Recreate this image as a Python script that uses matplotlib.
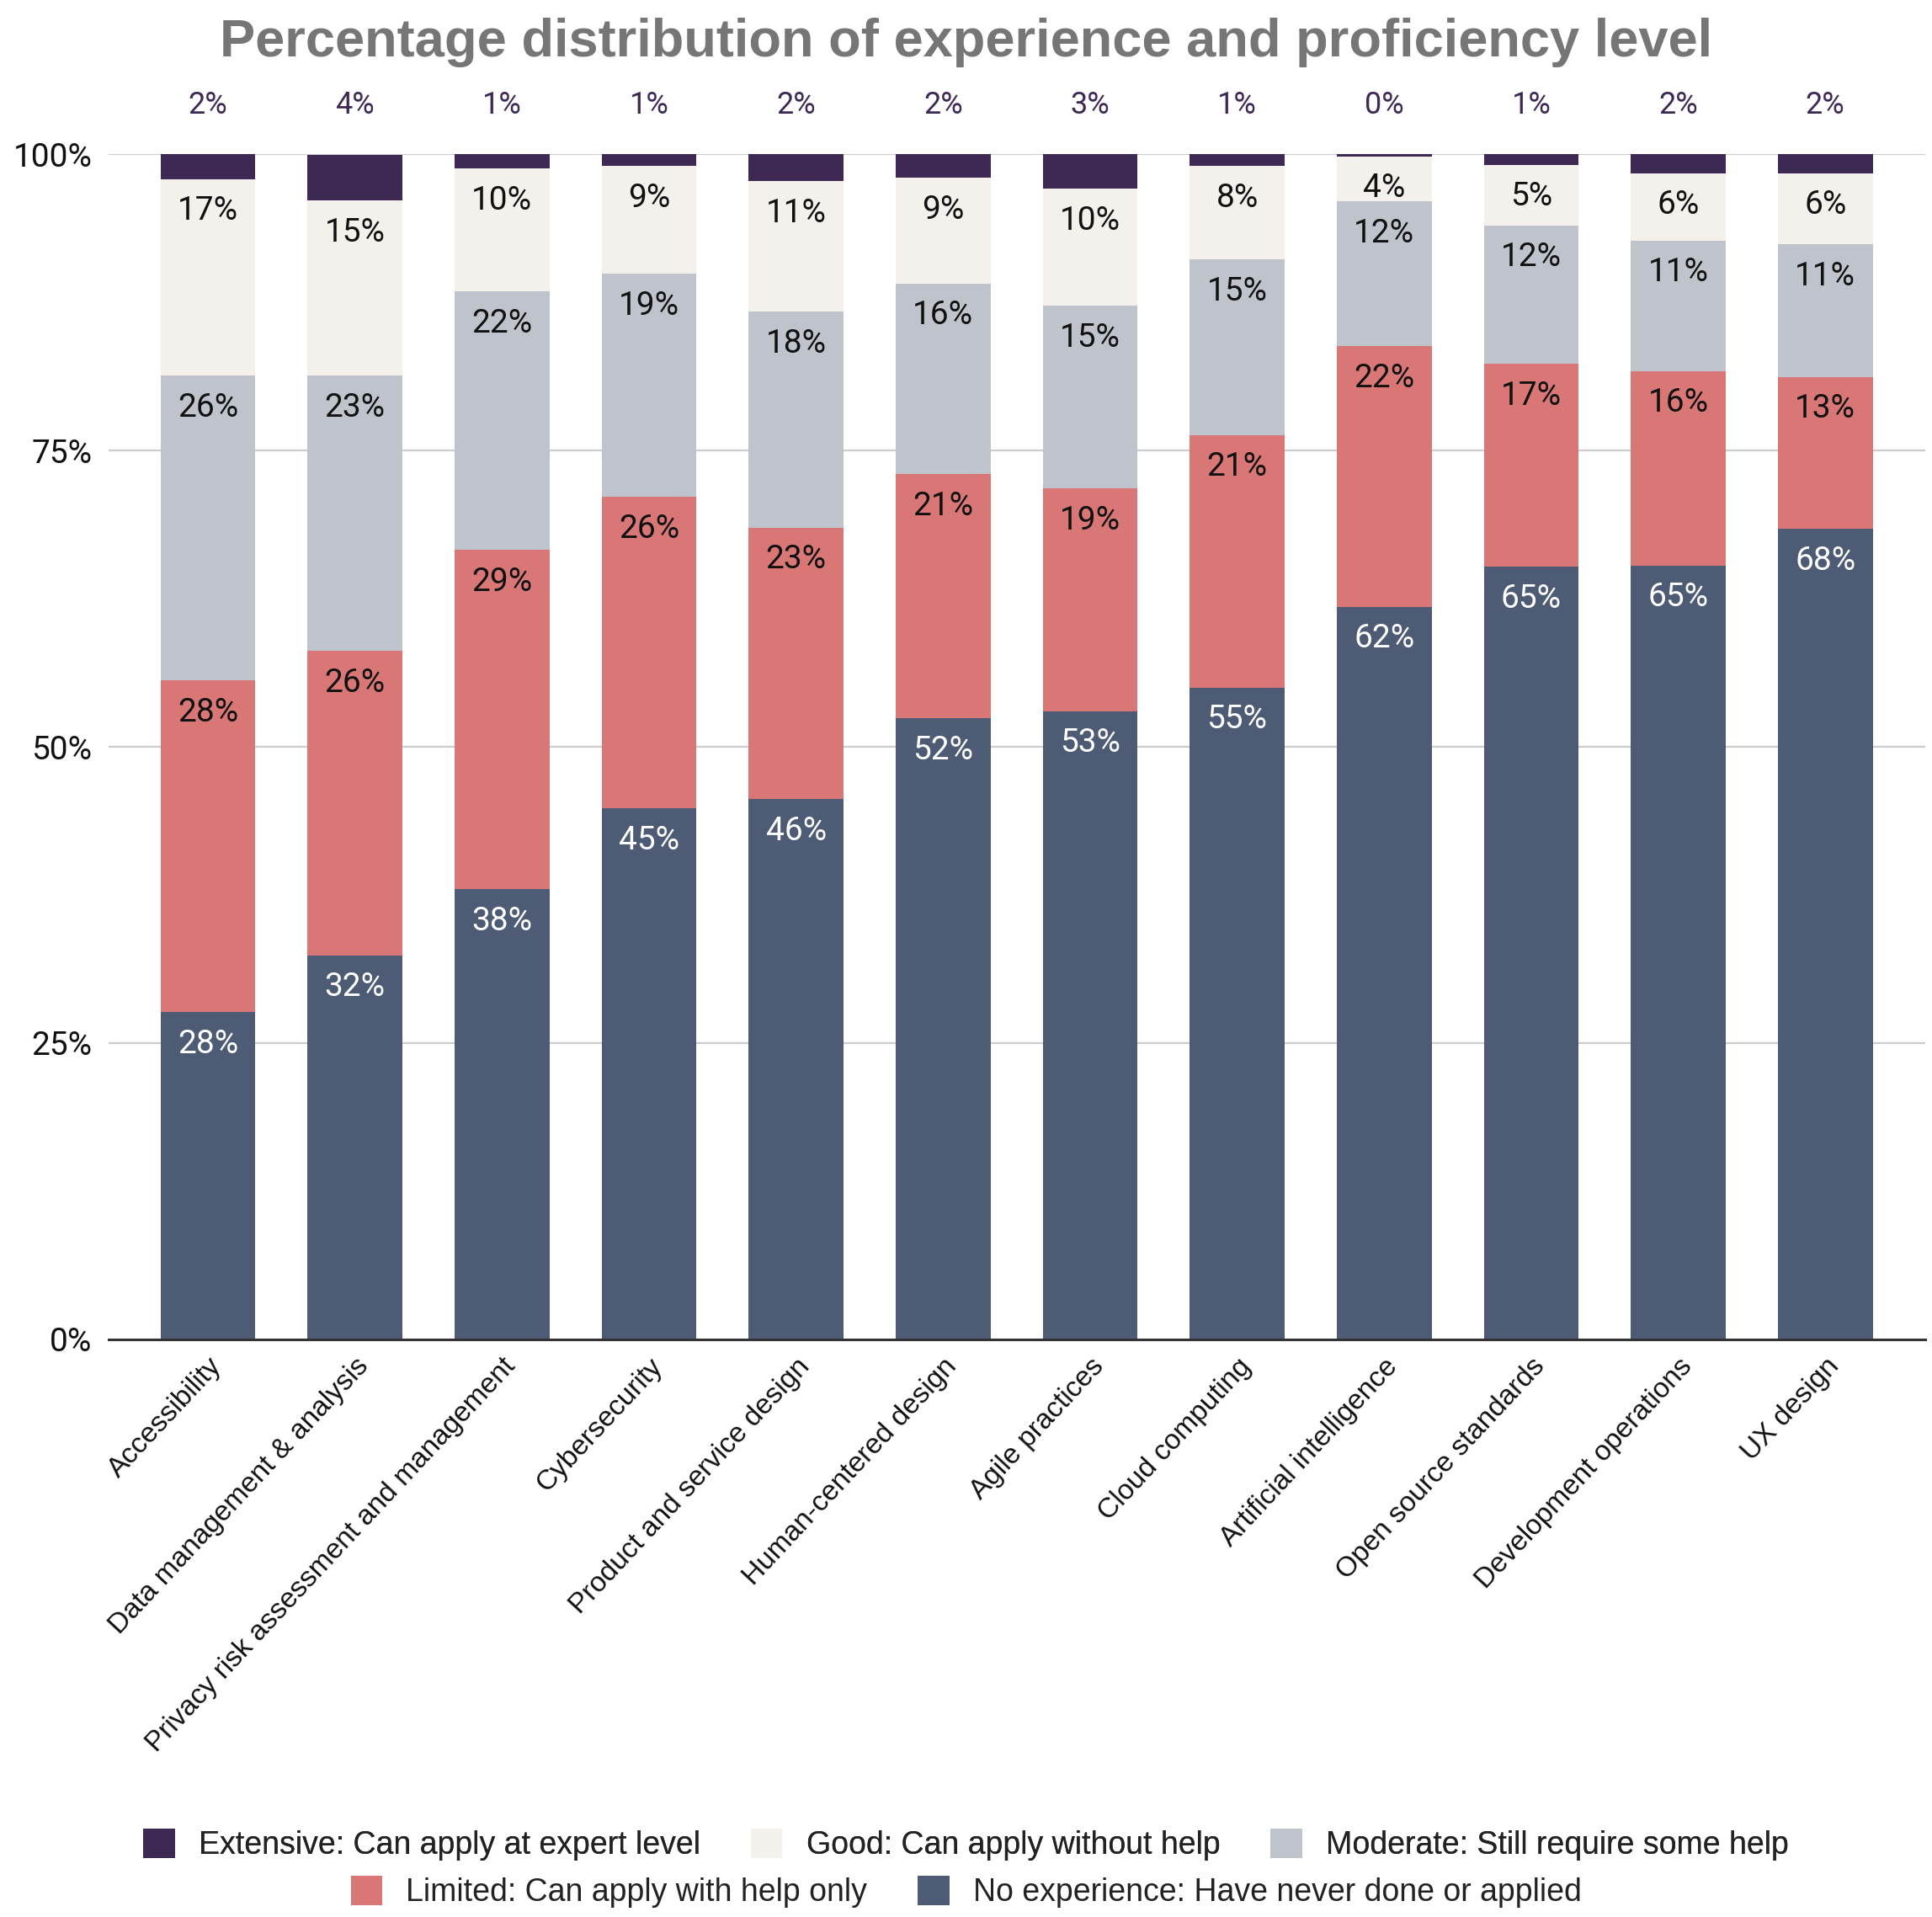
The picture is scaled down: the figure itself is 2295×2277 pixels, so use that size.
import numpy as np
import matplotlib
matplotlib.use("Agg")
import matplotlib.pyplot as plt

plt.rcParams['font.family'] = ['Liberation Sans', 'DejaVu Sans']

# Данные (значения в процентах)
categories = ["Accessibility", "Data management & analysis",
              "Privacy risk assessment and management", "Cybersecurity",
              "Product and service design", "Human-centered design",
              "Agile practices", "Cloud computing", "Artificial intelligence",
              "Open source standards", "Development operations", "UX design"]

no_experience = [27.6, 32.4, 38.0, 44.8, 45.6, 52.4, 53.0, 55.0, 61.8, 65.2, 65.3, 68.4]
limited = [28.0, 25.7, 28.6, 26.3, 22.9, 20.6, 18.8, 21.3, 22.0, 17.1, 16.4, 12.8]
moderate = [25.7, 23.2, 21.8, 18.8, 18.2, 16.1, 15.4, 14.8, 12.2, 11.7, 11.0, 11.2]
good = [16.6, 14.8, 10.4, 9.1, 11.0, 8.9, 9.9, 7.9, 3.8, 5.1, 5.7, 6.0]
extensive = [2.3, 3.8, 1.2, 1.0, 2.3, 2.0, 2.9, 1.0, 0.2, 0.9, 1.6, 1.6]

series_names = ["No experience: Have never done or applied",
                "Limited: Can apply with help only",
                "Moderate: Still require some help",
                "Good: Can apply without help",
                "Extensive: Can apply at expert level"]
colors = ['#4e5b74', '#d87776', '#bfc4cc', '#f4f1ec', '#3e2955']
label_colors = ['white', '#111111', '#111111', '#111111', None]

series = [no_experience, limited, moderate, good, extensive]

fig = plt.figure(figsize=(22.95, 22.77), dpi=100)
ax = fig.add_axes([0.0562, 0.3013, 0.9403, 0.6183])

x = np.arange(len(categories))
width = 0.645
bottom = np.zeros(len(categories))
bars = []
for vals, col, name, lc in zip(series, colors, series_names, label_colors):
    vals = np.array(vals)
    b = ax.bar(x, vals, width, bottom=bottom, color=col, label=name, zorder=3)
    bars.append(b)
    if lc is not None:
        for xi, top, v in zip(x, bottom + vals, vals):
            ax.annotate(f"{v:.0f}%", (xi, top), xytext=(0, -35),
                        textcoords='offset points', ha='center', va='baseline',
                        fontsize=28, color=lc, family='Roboto', zorder=4)
    bottom = bottom + vals

# Подписи над столбцами (Extensive)
for xi, v in zip(x, extensive):
    ax.text(xi, 103.4, f"{v:.0f}%", ha='center', va='baseline',
            fontsize=26, color='#3e2955', family='Roboto', clip_on=False)

# Оси и сетка
ax.set_xlim(-0.676, len(categories) - 1 + 0.68)
ax.set_ylim(0, 100)
ax.set_yticks([0, 25, 50, 75, 100])
ax.set_yticklabels(["0%", "25%", "50%", "75%", "100%"], family='Roboto',
                   fontsize=28, color='#111111')
ax.yaxis.grid(True, color='#cccccc', linewidth=1.6)
ax.set_axisbelow(True)
ax.tick_params(axis='y', length=0, pad=14)
ax.tick_params(axis='x', length=0, pad=12)
for s in ['top', 'right', 'left']:
    ax.spines[s].set_visible(False)
ax.spines['bottom'].set_color('#333333')
ax.spines['bottom'].set_linewidth(2.2)
ax.spines['bottom'].set_zorder(5)

ax.set_xticks(x)
ax.set_xticklabels(categories, rotation=47, ha='right', va='top',
                   rotation_mode='anchor', fontsize=24, color='#111111')

# Заголовок
fig.text(0.5, 0.9706, "Percentage distribution of experience and proficiency level",
         ha='center', va='baseline', fontsize=45.5, fontweight='bold', color='#767676')

# Легенда в две строки
h = [b[0] for b in bars]
leg_kw = dict(frameon=False, fontsize=27, handlelength=1.0, handleheight=1.05,
              handletextpad=0.75, columnspacing=1.6, labelcolor='#222222',
              loc='center', borderaxespad=0)
leg1 = fig.legend([h[4], h[3], h[2]], [series_names[4], series_names[3], series_names[2]],
                  ncol=3, bbox_to_anchor=(0.5, 1 - 2191 / 2277), **leg_kw)
fig.add_artist(leg1)
fig.legend([h[1], h[0]], [series_names[1], series_names[0]],
           ncol=2, bbox_to_anchor=(0.5, 1 - 2247 / 2277), **leg_kw)

fig.savefig("out.png", dpi=100)
